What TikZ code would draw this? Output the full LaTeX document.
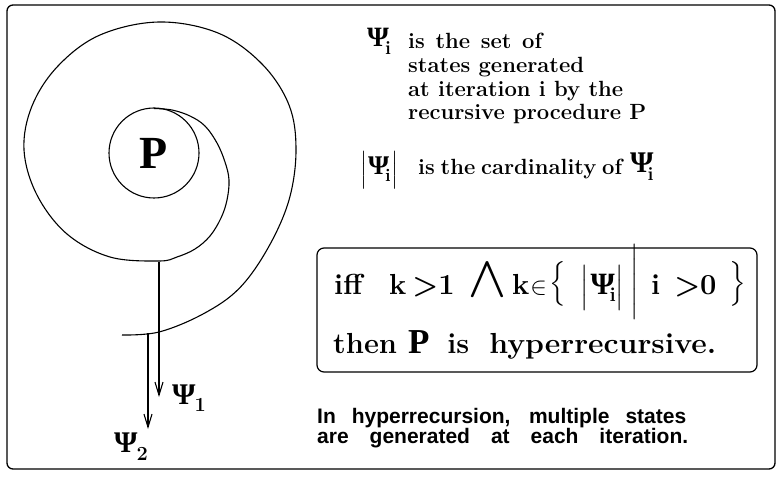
\documentclass[tikz,border=0pt]{standalone}
\usepackage{amsmath}
\usepackage{bm}
\usepackage{fontspec}
\usetikzlibrary{arrows.meta}
\newfontfamily\helv{Liberation Sans}
\newfontfamily\tms{Liberation Serif}
\newcommand\Psib[1]{{\tms\bfseries\fontsize{#1}{#1}\selectfont Ψ}}
\newcommand\subb[3]{\raisebox{-#2}{\rmfamily\bfseries\fontsize{#1}{#1}\selectfont #3}}
\newcommand\cmtxtfont{\fontsize{22}{26}\selectfont\bfseries}
\newcommand\boxtxtfont{\fontsize{29}{30}\selectfont\bfseries}
\newcommand\sanstxtfont{\fontsize{21}{24}\selectfont\helv\bfseries}
\tikzset{
  lbl/.style={inner sep=0pt, anchor=base west},
  ctr/.style={inner sep=0pt},
  cmtxt/.style={font=\cmtxtfont},
  boxtxt/.style={font=\boxtxtfont},
  sanstxt/.style={font=\sanstxtfont},
  ln/.style={line width=1.1pt, black},
  arr/.style={ln, -{Straight Barb[length=13pt,width=8pt,line width=1.1pt]}},
}
\begin{document}
\begin{tikzpicture}[x=1pt,y=-1pt]
\useasboundingbox (0,0) rectangle (781,478);
% outer frame
\draw[line width=1.3pt, rounded corners=6pt] (7,5) rectangle (775,469);

% inner circle with P
\node[draw, ln, circle, minimum size=90pt, inner sep=0pt,
      font=\fontsize{46}{46}\selectfont\tms\bfseries] (P) at (154,153) {P};

% spiral
\draw[ln] plot[smooth, tension=0.6] coordinates {
 (154,108.5) (172,110) (190,116) (205,126) (217,143) (225,162) (229,180)
 (227,200) (221,218) (210,236) (195,249) (177,257) (159,261)
 (110,257) (67,234) (37,195) (24,150) (32,106) (58,66) (100,35) (159,22)
 (218,33) (262,64) (289,105) (296,150) (289,200) (268,248) (239,288.6) (203,314)
 (159,332) (122,335)};

\coordinate (a1s) at (159,262);
\coordinate (a1e) at (159,397);
\coordinate (a2s) at (148,333);
\coordinate (a2e) at (148,429);
\draw[arr] (a1s) -- (a1e);
\draw[arr] (a2s) -- (a2e);
\node[lbl] (psi1) at (172,404) {\Psib{30}\hspace{-1pt}\subb{20}{7pt}{1}};
\node[lbl] (psi2) at (114,452) {\Psib{30}\hspace{-1pt}\subb{20}{8pt}{2}};

% top text
\node[lbl] (psit) at (367,47) {\Psib{28}\hspace{-4pt}\subb{19}{8pt}{i}};
\node[lbl, cmtxt] (t1) at (408,49) {\makebox[134pt][s]{is the set of}};
\node[lbl, cmtxt] (t2) at (408,73) {states generated};
\node[lbl, cmtxt] (t3) at (408,97) {at iteration i by the};
\node[lbl, cmtxt] (t4) at (408,120) {recursive procedure P};

\node[lbl, font=\fontsize{22}{23}\selectfont] (card) at (360,175)
  {$\Big|$\hspace{1pt}\Psib{27}\hspace{-4pt}\subb{18}{7pt}{i}\hspace{1pt}$\Big|$};
\node[lbl, cmtxt] (t5) at (418,175) {\makebox[204pt][s]{is the cardinality of}};
\node[lbl] (psic) at (630,173) {\Psib{30}\hspace{-6pt}\subb{19}{8pt}{i}};

% box
\draw[line width=1.2pt, rounded corners=7pt] (317,248) rectangle (757,372);
\node[lbl, boxtxt] (iff) at (334,294) {iff};
\node[lbl, boxtxt] (k1) at (389,294) {k\hspace{6pt}>1};
\node[ctr, font=\fontsize{24}{24}\selectfont] (wedge) at (487,280) {\scalebox{1.3}[1.04]{$\displaystyle\bigwedge$}};
\node[lbl, boxtxt] (k2) at (512,294) {k\hspace{1pt}{\mdseries$\in$}};
\node[ctr, font=\fontsize{29}{29}\selectfont\boldmath] (lbr) at (558,284) {$\Big\{$};
\node[lbl, font=\fontsize{29}{25}\selectfont] (cardb) at (580,294)
  {$\Big|$\hspace{2pt}\Psib{31}\hspace{-5pt}\subb{20}{7pt}{i}\hspace{0pt}$\Big|$};
\node[ctr, font=\fontsize{29}{24}\selectfont] (bar) at (635,282) {$\Bigg|$};
\node[lbl, boxtxt] (i0) at (651,294) {i\hspace{14pt}>0};
\node[ctr, font=\fontsize{29}{29}\selectfont\boldmath] (rbr) at (738,284) {$\Big\}$};

\node[lbl, boxtxt] (then) at (333,353)
  {then\hspace{11pt}{\fontsize{35}{35}\selectfont\tms\bfseries P}\hspace{18pt}is\hspace{20pt}\scalebox{1.04}[1]{hyperrecursive.}};

% bottom text
\node[lbl, sanstxt] (b1) at (317,423) {\makebox[369pt][s]{In hyperrecursion, multiple states}};
\node[lbl, sanstxt] (b2) at (317,443) {\makebox[371pt][s]{are generated at each iteration.}};
\end{tikzpicture}
\end{document}
